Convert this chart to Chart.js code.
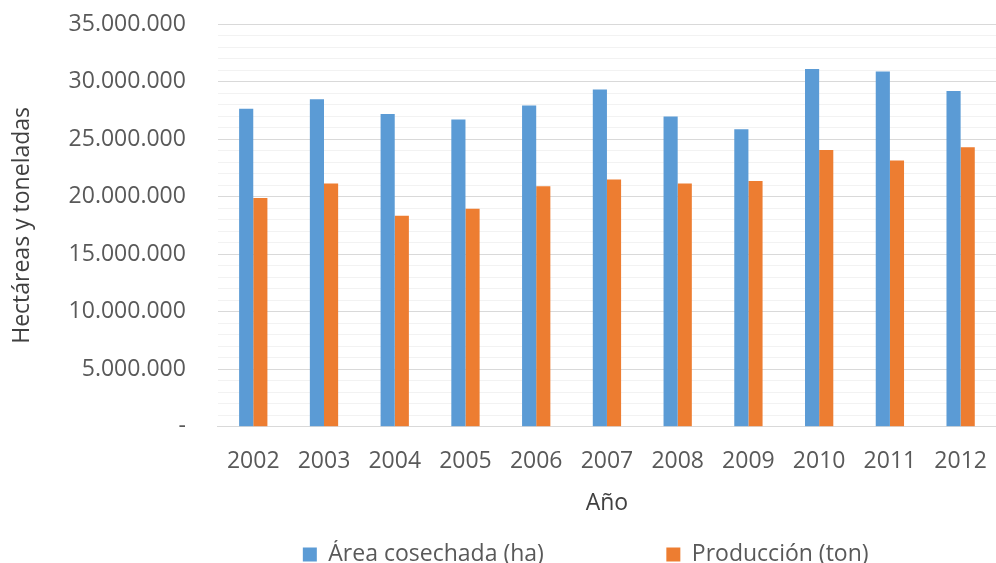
<!DOCTYPE html>
<html>
<head>
<meta charset="utf-8">
<script src="https://cdn.jsdelivr.net/npm/chart.js@4"></script>
<style>
  html, body { margin: 0; padding: 0; background: #fff; }
  #wrap { width: 996px; height: 563px; }
</style>
</head>
<body>
<div id="wrap"><canvas id="chart"></canvas></div>
<script>
const years = ['2002', '2003', '2004', '2005', '2006', '2007', '2008', '2009', '2010', '2011', '2012'];
const areaCosechada = [27630000, 28470000, 27190000, 26700000, 27920000, 29310000, 26960000, 25860000, 31080000, 30880000, 29170000];
const produccion = [19880000, 21130000, 18340000, 18950000, 20900000, 21480000, 21130000, 21360000, 24060000, 23130000, 24290000];
const seriesNames = ['Área cosechada (ha)', 'Producción (ton)'];
const seriesColors = ['#5B9BD5', '#ED7D31'];

const FONT = "'Open Sans', 'Noto Sans', sans-serif";

// 35.000.000 style, zero shown as "-"
const fmt = (v) => v === 0 ? '-' : String(v).replace(/\B(?=(\d{3})+(?!\d))/g, '.');

new Chart(document.getElementById('chart'), {
    type: 'bar',
    data: {
        labels: years,
        datasets: [
            { label: seriesNames[0], data: areaCosechada, backgroundColor: seriesColors[0] },
            { label: seriesNames[1], data: produccion, backgroundColor: seriesColors[1] }
        ]
    },
    options: {
        responsive: true,
        maintainAspectRatio: false,
        animation: false,
        datasets: {
            bar: { categoryPercentage: 0.4, barPercentage: 1.0 }
        },
        // plot runs a bit past the right edge like the original
        layout: { padding: { top: 24, right: -7, bottom: -13, left: 9 } },
        plugins: {
            tooltip: { enabled: false },
            legend: {
                position: 'bottom',
                align: 'end',
                labels: {
                    font: { family: FONT, size: 23 },
                    color: '#595959',
                    boxWidth: 14,
                    boxHeight: 14,
                    padding: 3,
                    generateLabels: (chart) => {
                        const items = Chart.defaults.plugins.legend.labels.generateLabels(chart);
                        // spacing to place the two entries like the original
                        items.forEach((it, i) => {
                            it.lineWidth = 0;
                            it.text = it.text + '\u00a0'.repeat(i === 0 ? 20 : 22);
                        });
                        return items;
                    }
                }
            }
        },
        scales: {
            x: {
                afterFit: (scale) => { scale.paddingRight = 0; },
                grid: { display: false },
                border: { display: true, color: '#d9d9d9', width: 1 },
                ticks: { font: { family: FONT, size: 23 }, color: '#595959', padding: 13 },
                title: {
                    display: true,
                    text: 'Año',
                    font: { family: FONT, size: 23 },
                    color: '#404040',
                    padding: { top: 1, bottom: 23 }
                }
            },
            y: {
                min: 0,
                max: 35000000,
                border: { display: false },
                grid: {
                    drawTicks: true,
                    tickLength: 30,
                    tickColor: 'rgba(0,0,0,0)',
                    color: (ctx) => ctx.tick && ctx.tick.value % 5000000 === 0 ? '#d9d9d9' : '#f2f2f2',
                    lineWidth: 1
                },
                ticks: {
                    stepSize: 1000000,
                    autoSkip: false,
                    padding: 2,
                    font: { family: FONT, size: 23 },
                    color: '#595959',
                    callback: (v) => v % 5000000 === 0 ? fmt(v) : ''
                },
                title: {
                    display: true,
                    text: 'Hectáreas y toneladas',
                    font: { family: FONT, size: 23 },
                    color: '#404040',
                    padding: { top: 0, bottom: 30 }
                }
            }
        }
    }
});
</script>
</body>
</html>
